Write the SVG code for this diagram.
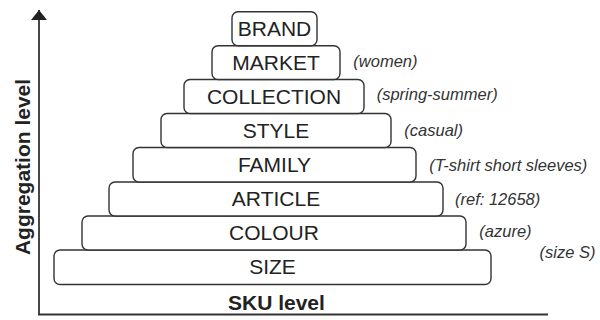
<svg xmlns="http://www.w3.org/2000/svg" width="600" height="320" viewBox="0 0 600 320">
<style>
.box{fill:#fff;stroke:#333;stroke-width:1.4}
.lbl{font-family:"Liberation Sans",Arial,sans-serif;font-size:21px;fill:#222;text-anchor:middle}
.ann{font-family:"Liberation Sans",Arial,sans-serif;font-size:16.5px;font-style:italic;fill:#333}
.axt{font-family:"Liberation Sans",Arial,sans-serif;font-size:21px;font-weight:bold;fill:#222}
.axis{stroke:#333;stroke-width:1.8;fill:none}
</style>
<defs>
<marker id="ah" viewBox="0 0 10 16" refX="10" refY="8" markerWidth="10" markerHeight="16" markerUnits="userSpaceOnUse" orient="auto">
<path d="M0,0 L10,8 L0,16 Z" fill="#222"/>
</marker>
</defs>
<rect width="600" height="320" fill="#fff"/>
<g id="axes">
<line class="axis" x1="39" y1="314.5" x2="39" y2="10" marker-end="url(#ah)"/>
<line class="axis" x1="38" y1="314.5" x2="548" y2="314.5"/>
<text class="axt" transform="translate(29.5,167) rotate(-90)" text-anchor="middle">Aggregation level</text>
<text class="axt" x="228" y="309.5">SKU level</text>
</g>
<g id="size"><rect class="box" x="54" y="250" width="437" height="34.5" rx="6"/><text class="lbl" x="272.5" y="274">SIZE</text><text class="ann" x="539.5" y="258.3">(size S)</text></g>
<g id="colour"><rect class="box" x="82" y="216" width="384" height="34" rx="6"/><text class="lbl" x="274" y="240">COLOUR</text><text class="ann" x="479.3" y="237.3">(azure)</text></g>
<g id="article"><rect class="box" x="109" y="182" width="334" height="34" rx="6"/><text class="lbl" x="276" y="206">ARTICLE</text><text class="ann" x="455" y="205">(ref: 12658)</text></g>
<g id="family"><rect class="box" x="133" y="147.5" width="283" height="34.5" rx="6"/><text class="lbl" x="274.5" y="172">FAMILY</text><text class="ann" x="429.3" y="170.7">(T-shirt short sleeves)</text></g>
<g id="style"><rect class="box" x="161" y="113.5" width="230" height="34" rx="6"/><text class="lbl" x="276" y="137.5">STYLE</text><text class="ann" x="404.3" y="135.7">(casual)</text></g>
<g id="collection"><rect class="box" x="184" y="79.5" width="180" height="34" rx="6"/><text class="lbl" x="274" y="103.5">COLLECTION</text><text class="ann" x="376.7" y="100">(spring-summer)</text></g>
<g id="market"><rect class="box" x="212" y="45.7" width="128" height="33.8" rx="6"/><text class="lbl" x="276" y="69.7">MARKET</text><text class="ann" x="353.3" y="66.7">(women)</text></g>
<g id="brand"><rect class="box" x="232" y="11.7" width="85" height="34" rx="6"/><text class="lbl" x="274.5" y="35.7">BRAND</text></g>
</svg>
